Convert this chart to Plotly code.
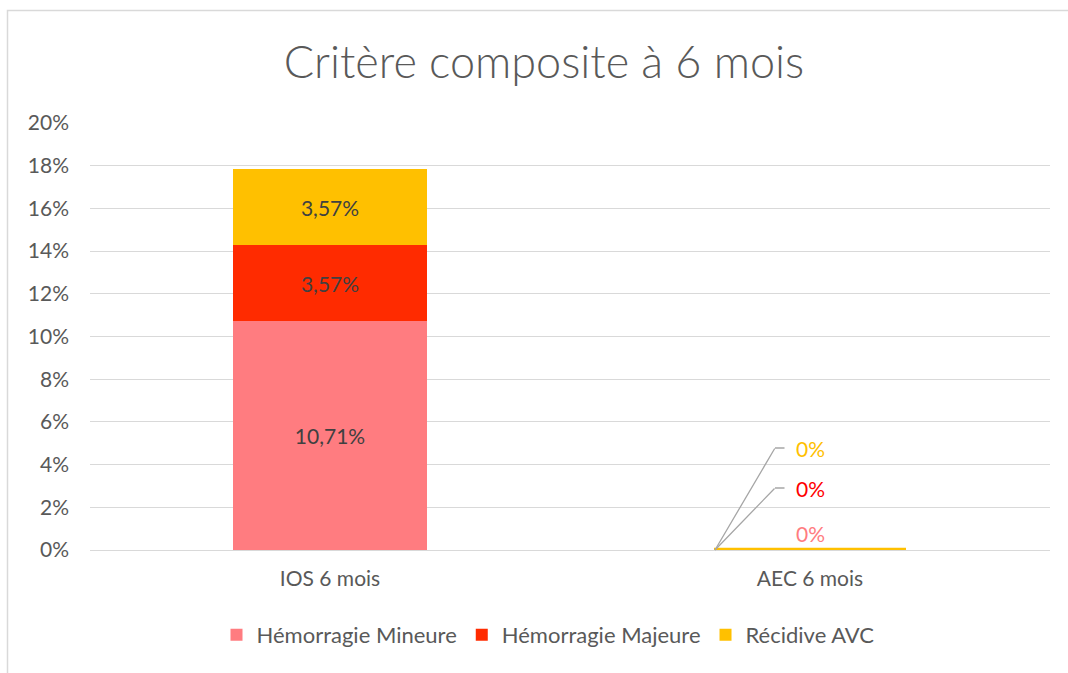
import plotly.graph_objects as go

categories = ["IOS 6 mois", "AEC 6 mois"]
series_names = ["Hémorragie Mineure", "Hémorragie Majeure", "Récidive AVC"]
series_colors = ["#FF7C80", "#FF2B00", "#FFC000"]
label_colors = ["#FF7C80", "#FF0000", "#FFC000"]
minor_vals = [10.71, 0.0]
major_vals = [3.57, 0.0]
avc_vals = [3.57, 0.0]
series_values = [minor_vals, major_vals, avc_vals]
y_ticks = list(range(0, 21, 2))
y_ticktext = [f"{v}%" for v in y_ticks]

FONT = "Lato"
GRAY = "#595959"
FS = 21

def fmt(v):
    return f"{v:.2f}".replace(".", ",") + "%"

fig = go.Figure()
for name, vals, col in zip(series_names, series_values, series_colors):
    fig.add_trace(go.Bar(
        x=categories, y=vals, name=name,
        marker=dict(color=col, line=dict(width=0)),
        text=[fmt(v) if v > 0 else "" for v in vals],
        textposition="inside", insidetextanchor="middle",
        textfont=dict(family=FONT, size=FS, color="#404040"),
        hoverinfo="skip",
    ))

annotations = []
LEADER = "#A6A6A6"
for ci, cat in enumerate(categories):
    for si, vals in enumerate(series_values):
        if vals[ci] == 0:
            if si == 0:
                annotations.append(dict(
                    x=cat, y=0, xref="x", yref="y", text="0%", showarrow=False,
                    yshift=17, font=dict(family=FONT, size=FS, color=label_colors[si])))
            else:
                lift = 62 if si == 1 else 102
                annotations.append(dict(
                    x=cat, y=0, xref="x", yref="y", text="0%", showarrow=False,
                    yshift=lift, font=dict(family=FONT, size=FS, color=label_colors[si])))
                annotations.append(dict(
                    x=cat, y=0, xref="x", yref="y", text="", xshift=-95,
                    showarrow=True, arrowhead=0, arrowwidth=1.3, arrowcolor=LEADER,
                    ax=60, ay=-lift, standoff=0, startstandoff=0, borderpad=0))
                annotations.append(dict(
                    x=cat, y=0, xref="x", yref="y", text="", xshift=-35, yshift=lift,
                    showarrow=True, arrowhead=0, arrowwidth=1.3, arrowcolor=LEADER,
                    ax=10, ay=0, standoff=0, startstandoff=0, borderpad=0))

shapes = []
for ci, cat in enumerate(categories):
    if sum(v[ci] for v in series_values) == 0:
        shapes.append(dict(type="line", xref="x", yref="y",
                           x0=ci - 0.2, x1=ci + 0.2, y0=0.04, y1=0.04,
                           line=dict(color=series_colors[2], width=3)))
shapes.append(dict(type="rect", xref="paper", yref="paper",
                   x0=(7.5 - 90) / 960, x1=1.2, y0=-0.6, y1=(550 - 10.5) / 427,
                   line=dict(color="#D9D9D9", width=1.5), layer="below"))

fig.update_layout(
    width=1068, height=673,
    margin=dict(l=90, r=18, t=123, b=123),
    paper_bgcolor="white", plot_bgcolor="white",
    barmode="stack", bargap=0.596,
    title=dict(text="Critère composite à 6 mois", x=544 / 1068, xanchor="center",
               y=1 - 62 / 673, yanchor="middle",
               font=dict(family=FONT, size=45, color=GRAY, weight=300)),
    xaxis=dict(showgrid=False, showline=False, ticks="", ticklabelstandoff=14,
               tickfont=dict(family=FONT, size=FS, color=GRAY)),
    yaxis=dict(range=[0, 20], tickmode="array", tickvals=y_ticks, ticktext=y_ticktext,
               showgrid=True, gridcolor="#D9D9D9", gridwidth=1,
               zeroline=True, zerolinecolor="#D9D9D9", zerolinewidth=1,
               showline=False, ticks="", ticklabelstandoff=20,
               tickfont=dict(family=FONT, size=FS, color=GRAY)),
    legend=dict(orientation="h", x=(548 - 90) / 960, xanchor="center",
                y=(550 - 635) / 427, yanchor="middle",
                font=dict(family=FONT, size=22, color=GRAY),
                traceorder="normal"),
    showlegend=True,
    annotations=annotations,
    shapes=shapes,
)
fig.update_traces(textangle=0, constraintext="none")

fig.write_html("out.html", config={"displayModeBar": False},
               post_script="document.body.style.margin='0px';")
